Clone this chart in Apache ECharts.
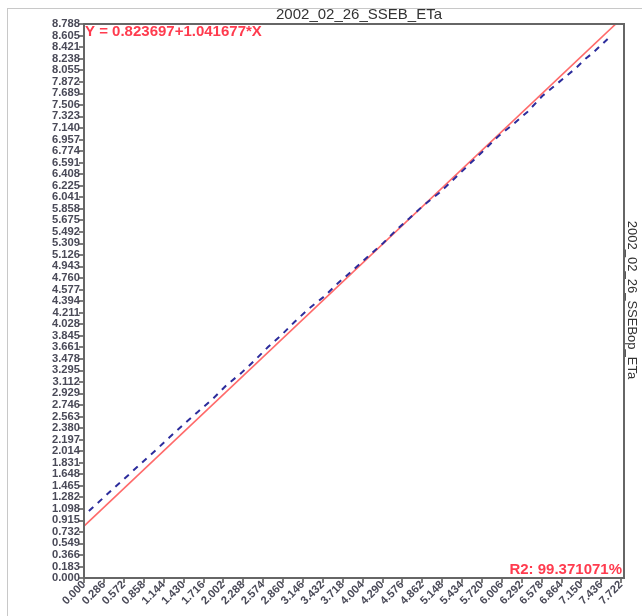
<!DOCTYPE html>
<html>
<head>
<meta charset="utf-8">
<script src="https://cdn.jsdelivr.net/npm/echarts@6/dist/echarts.min.js"></script>
<style>
html,body{margin:0;padding:0;background:#fff;}
#chart{width:642px;height:616px;}
</style>
</head>
<body>
<div id="chart"></div>
<script>
// ---- data ----
var chartTitle = "2002_02_26_SSEB_ETa";
var rightTitle = "2002_02_26_SSEBop_ETa";
var equationText = "Y = 0.823697+1.041677*X";
var r2Text = "R2: 99.371071%";
var fitIntercept = 0.823697;
var fitSlope = 1.041677;

var xTickLabels = ["0.000","0.286","0.572","0.858","1.144","1.430","1.716","2.002","2.288","2.574","2.860","3.146","3.432","3.718","4.004","4.290","4.576","4.862","5.148","5.434","5.720","6.006","6.292","6.578","6.864","7.150","7.436","7.722"];
var yTickLabels = ["0.000","0.183","0.366","0.549","0.732","0.915","1.098","1.282","1.465","1.648","1.831","2.014","2.197","2.380","2.563","2.746","2.929","3.112","3.295","3.478","3.661","3.845","4.028","4.211","4.394","4.577","4.760","4.943","5.126","5.309","5.492","5.675","5.858","6.041","6.225","6.408","6.591","6.774","6.957","7.140","7.323","7.506","7.689","7.872","8.055","8.238","8.421","8.605","8.788"];

var xMax = 7.722, xStep = 0.286;
var yMax = 8.788, yStep = 8.788 / 48;

// observed (blue dashed) points
var obsX = [0.07,0.27,0.45,0.65,0.86,1.05,1.23,1.45,1.64,1.86,2.05,2.26,2.46,2.65,2.84,3.03,3.24,3.45,3.65,3.87,4.08,4.30,4.49,4.68,4.87,5.11,5.28,5.73,5.95,6.16,6.38,6.59,6.81,7.07,7.22,7.31,7.53];
var obsY = [1.063,1.264,1.448,1.645,1.856,2.046,2.232,2.454,2.638,2.850,3.060,3.250,3.458,3.669,3.855,4.066,4.278,4.462,4.675,4.886,5.097,5.309,5.520,5.706,5.900,6.110,6.287,6.763,7.000,7.186,7.397,7.646,7.847,8.085,8.244,8.323,8.550];

// fit line endpoints (x values)
var fitX = [0, xMax];

// ---- build ----
var obsData = obsX.map(function(x,i){return [x, obsY[i]];});
var fitData = fitX.map(function(x){return [x, fitIntercept + fitSlope*x];});

var chart = echarts.init(document.getElementById('chart'));
var labelFont = {fontFamily:'Liberation Sans, Arial, sans-serif', fontSize:11.2, fontWeight:'bold', color:'#4a4a58'};
chart.setOption({
  animation:false,
  backgroundColor:'#fff',
  title:{
    text: chartTitle, left: 354, top: 2, textAlign:'center',
    textStyle:{fontFamily:'Liberation Sans, Arial, sans-serif', fontSize:15, fontWeight:'normal', color:'#333'}
  },
  grid:{left:84, top:24, width:537, height:554, containLabel:false},
  xAxis:{
    type:'value', min:0, max:xMax, interval:xStep,
    axisLine:{show:true, onZero:false, lineStyle:{color:'#555', width:2}},
    axisTick:{show:true, length:5, lineStyle:{color:'#555', width:1.5}},
    splitLine:{show:false},
    axisLabel:Object.assign({rotate:45, margin:5, showMinLabel:true, showMaxLabel:true,
      formatter:function(v){return xTickLabels[Math.round(v/xStep)] || '';}}, labelFont)
  },
  yAxis:{
    type:'value', min:0, max:yMax, interval:yStep,
    axisLine:{show:true, onZero:false, lineStyle:{color:'#555', width:2}},
    axisTick:{show:true, length:5, lineStyle:{color:'#555', width:1.5}},
    splitLine:{show:false},
    axisLabel:Object.assign({margin:4, showMinLabel:true, showMaxLabel:true,
      formatter:function(v){return yTickLabels[Math.round(v/yStep)] || '';}}, labelFont)
  },
  series:[
    {
      type:'line', data:fitData, symbol:'none', clip:true, z:2,
      lineStyle:{color:'#ff6a6a', width:1.6}
    },
    {
      type:'line', data:obsData, symbol:'none', clip:true, z:3,
      lineStyle:{color:'#2c2c9c', width:2, type:[6,6]}
    }
  ],
  graphic:[
    {type:'line', shape:{x1:7.5,y1:8,x2:7.5,y2:616}, style:{stroke:'#c8c8c8', lineWidth:1}},
    {type:'line', shape:{x1:7,y1:8.5,x2:642,y2:8.5}, style:{stroke:'#c8c8c8', lineWidth:1}},
    {type:'rect', shape:{x:84,y:24,width:540,height:554}, style:{fill:'none', stroke:'#666', lineWidth:2}, z:10},
    {type:'text', x:85, y:32, z:11, style:{text:equationText, fill:'#ff3b4e', font:'bold 15px "Liberation Sans", Arial, sans-serif', textAlign:'left', textVerticalAlign:'middle'}},
    {type:'text', x:622, y:570, z:11, style:{text:r2Text, fill:'#ff3b4e', font:'bold 15px "Liberation Sans", Arial, sans-serif', textAlign:'right', textVerticalAlign:'middle'}},
    {type:'text', x:632, y:300, rotation:-Math.PI/2, z:11, style:{text:rightTitle, fill:'#333', font:'13px "Liberation Sans", Arial, sans-serif', textAlign:'center', textVerticalAlign:'middle'}}
  ]
});
</script>
</body>
</html>
